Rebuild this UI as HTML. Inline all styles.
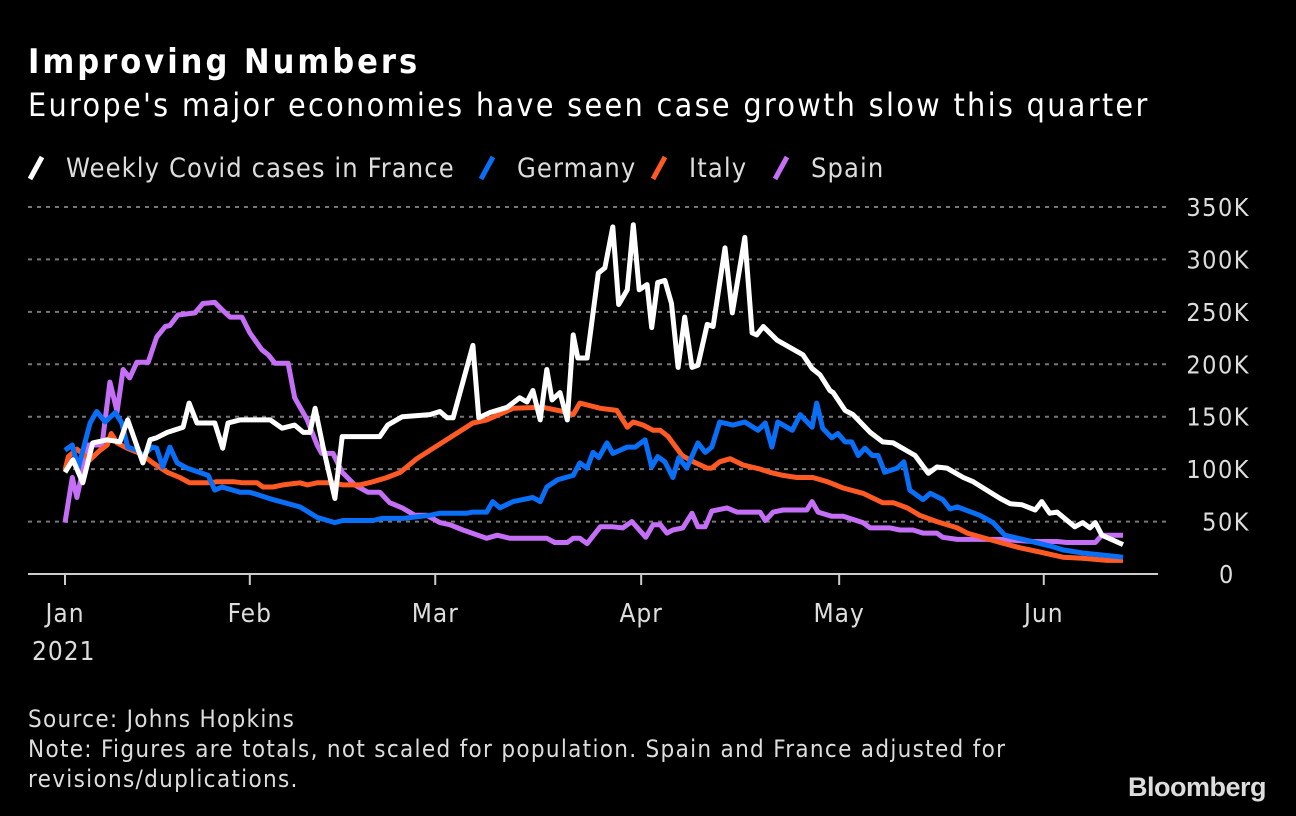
<!DOCTYPE html>
<html><head><meta charset="utf-8">
<style>
html,body{margin:0;padding:0;background:#000;}
body{width:1296px;height:816px;overflow:hidden;position:relative;font-family:"DejaVu Sans Condensed","Liberation Sans Narrow","Liberation Sans",sans-serif;color:#fff;}
.t{position:absolute;white-space:nowrap;}
</style></head><body>
<div class="t" style="left:28px;top:42px;font-size:34px;font-weight:bold;letter-spacing:3px;">Improving Numbers</div>
<div class="t" style="left:28px;top:86px;font-size:32px;letter-spacing:2.3px;">Europe's major economies have seen case growth slow this quarter</div>
<svg id="chart" width="1296" height="816" style="position:absolute;left:0;top:0"></svg>
<div class="t" style="left:28px;top:704px;font-size:24px;color:#ddd;line-height:30px;letter-spacing:1.3px;">Source: Johns Hopkins<br>Note: Figures are totals, not scaled for population. Spain and France adjusted for<br>revisions/duplications.</div>
<div class="t" style="left:1128px;top:772px;font-size:27px;font-weight:bold;color:#ddd;font-family:'Liberation Sans',sans-serif;letter-spacing:-0.5px;">Bloomberg</div>
<script>
const yTicks=[0,50,100,150,200,250,300,350];
const yTickLabels=["0","50K","100K","150K","200K","250K","300K","350K"];
const monthTicks=[0,28,56.1,87.3,117.3,148.3];
const monthLabels=["Jan","Feb","Mar","Apr","May","Jun"];
const legendLabels=["Weekly Covid cases in France","Germany","Italy","Spain"];

const franceDays=[0,1.2,2.7,4.2,6.4,8.3,9.5,11.8,12.9,13.9,15.5,17.9,18.8,20,22.7,23.9,24.7,26.5,31.1,32.9,34.8,36.1,37.1,37.9,39.1,40.9,42,47.7,48.9,51.1,55.3,56.8,57.9,58.8,61.8,62.7,64.4,67,68.9,70,70.9,72,73,73.8,75,76.1,77,77.7,79.1,80.8,81.8,83,83.9,85.2,86.1,87,88.2,88.9,89.8,90.9,91.9,92.9,93.9,95,95.9,97.3,98.2,100,101.1,103,104.1,104.8,105.8,107.9,111.8,113.2,114.4,115.9,116.4,118.2,119.4,122,123.9,125.5,128.8,130.8,132.1,133.6,136.1,137.6,141.7,143.2,145,147,148,149.2,150.3,153,154.2,155.3,156.1,157.1,160.3];
const franceValues=[97,109,87,125,128,126,147,106,128,130,135,140,163,144,144,120,144,147,147,139,142,135,135,158,121,72,131,131,142,150,152,155,149,149,218,149,154,159,168,164,175,147,195,166,173,147,228,206,206,287,292,331,257,271,333,271,276,235,278,280,258,197,245,197,199,238,236,311,249,321,230,228,236,223,209,196,190,175,173,156,152,135,126,125,113,96,102,101,92,88,72,67,66,61,69,58,59,45,49,44,49,37,28];

const germanyDays=[0,1.1,2,3.8,4.8,6.1,7.6,8.6,9.5,10.9,11.8,13.2,13.9,14.8,15.9,17,18.5,21.7,22.7,23.8,26.5,28,31.5,35.6,38.2,40.9,42.1,46.7,48,51.2,55.3,56.8,60.9,61.8,63.9,64.8,65.9,67.9,70.9,72,73,74.7,77,78,79.1,80,80.9,82.1,83,85.2,86.4,87.9,88.9,89.8,90.9,92.1,93,94.2,95.9,97,98,99.2,101.2,103,105,106.1,107.1,108,110.2,111.4,113.2,113.9,114.8,116.2,117.1,118.2,119.2,120.2,121.2,122.3,123.2,124.2,126.1,127.1,128,130,131.1,133,134.1,135.2,138.6,140.6,142.4,145.8,149.7,151.2,154.2,157.3,160.3];
const germanyValues=[118,123,101,144,155,145,154,144,121,118,113,121,120,102,121,106,101,94,80,83,78,78,71,64,54,49,51,51,53,53,56,58,58,59,59,69,63,69,73,69,83,90,94,106,101,116,111,125,115,121,121,128,102,112,107,92,111,101,125,116,121,145,142,145,137,144,121,145,137,152,140,163,139,130,134,126,126,113,120,113,113,97,101,107,80,71,77,71,62,64,56,49,37,32,26,23,20,18,16];

const italyDays=[0,0.5,1.8,3.8,5.3,6.4,7,7.9,9.4,11.4,13.3,15.5,17.4,18.9,22,23,25.5,27,29.1,30,31.5,33,35.6,36.7,38.2,40.6,42.1,44.7,46.7,48.8,50.8,53.3,55.3,61.8,63.9,67.9,72.4,75.5,77,78,81.1,83.6,85.2,86.1,87.6,89.1,90.2,91.4,93.5,95.2,97.3,98,99.2,100.8,102.7,105.3,106.8,108.8,110.9,113.3,115.5,117.9,120.9,123.9,125.5,127.6,129.5,132.1,135.2,136.7,141.7,144.7,147.7,151.2,154.2,157.9,160.3];
const italyValues=[99,112,119,109,118,123,134,125,120,115,106,97,92,87,87,88,88,87,87,83,83,85,87,85,87,87,85,85,88,92,97,110,118,144,147,158,159,155,152,163,158,156,140,145,142,137,137,131,113,107,101,101,107,110,104,100,97,94,92,92,88,82,77,68,68,63,56,50,44,39,30,25,21,16,15,13,13];

const spainDays=[0,1.1,1.8,3.5,5.6,6.8,7.9,8.8,9.8,10.9,12.6,13.9,15.2,15.9,17.1,19.7,20.9,22.7,23.8,25,26.8,28,29.8,30.8,31.8,33.8,34.8,36.7,38.2,38.9,40.6,42,43.9,45.9,47.7,49.2,51.1,53,54.8,56.8,58.3,60.3,63.9,65.5,67.4,73,74.2,76.1,77,78,79.1,81.1,83,84.5,85.9,88,89.1,90.2,91.2,92.1,93.6,95,95.9,97,98,100.3,101.8,105.3,106.1,107.3,108.8,112.4,113.2,114.1,116.2,117.9,120.9,122,125,126.5,128.5,130,132.1,133,135.2,141.7,146.7,150.3,151.8,156.1,157.1,160.3];
const spainValues=[49,92,73,123,123,183,155,195,187,202,202,226,236,237,247,249,258,259,252,245,245,230,214,209,201,201,168,147,123,115,115,97,85,78,78,68,63,56,56,49,47,42,34,37,34,34,30,30,34,34,29,45,45,44,50,35,47,47,39,42,44,58,45,45,60,63,59,59,51,59,61,61,69,59,55,55,49,44,44,42,42,39,39,35,33,33,31,31,30,30,37,37];

const NS='http://www.w3.org/2000/svg';
const svg=document.getElementById('chart');
const xScale=d=>65+d*6.6;
const yScale=v=>574-v/350*367;
function mk(tag,attrs,parent){const e=document.createElementNS(NS,tag);for(const k in attrs)e.setAttribute(k,attrs[k]);(parent||svg).appendChild(e);return e;}

yTicks.forEach((v,i)=>{
  if(v>0){
    const g=mk('line',{x1:28,x2:1168,y1:yScale(v),y2:yScale(v),stroke:'#777','stroke-width':2,'stroke-dasharray':'4,5'});
    
    
  }
  const t=mk('text',{x:v===0?1219:1250,y:yScale(v)+9,'font-size':25,fill:'#ddd','text-anchor':v===0?'start':'end','letter-spacing':1.5});
  t.textContent=yTickLabels[i];
  
  
});
const ax=mk('line',{x1:28,x2:1158,y1:574,y2:574,stroke:'#ccc','stroke-width':2});


monthTicks.forEach((d,i)=>{
  const tk=mk('line',{x1:xScale(d),x2:xScale(d),y1:574,y2:585,stroke:'#ccc','stroke-width':2});
  
  
  const t=mk('text',{x:xScale(d),y:622,'font-size':26,fill:'#ddd','text-anchor':'middle','letter-spacing':1});
  t.textContent=monthLabels[i];
  
  
});
const yr=mk('text',{x:32,y:660,'font-size':26,fill:'#ddd','letter-spacing':1});
yr.textContent='2021';



const series=[
  {name:'spain-line',days:spainDays,vals:spainValues,color:'#c56ff7'},
  {name:'italy-line',days:italyDays,vals:italyValues,color:'#ff5a24'},
  {name:'germany-line',days:germanyDays,vals:germanyValues,color:'#0a6ff7'},
  {name:'france-line',days:franceDays,vals:franceValues,color:'#ffffff'}
];
series.forEach(s=>{
  const n=Math.min(s.days.length,s.vals.length);
  let d='';
  for(let i=0;i<n;i++)d+=(i?'L':'M')+xScale(s.days[i]).toFixed(1)+','+yScale(s.vals[i]).toFixed(1);
  const p=mk('path',{d:d,fill:'none',stroke:s.color,'stroke-width':5,'stroke-linejoin':'round','stroke-linecap':'butt'});
  
  
});

const legColors=['#ffffff','#0a6ff7','#ff5a24','#c56ff7'];
const legX=[30,481,653,775];
legendLabels.forEach((lab,i)=>{
  const g=mk('g',{});
  
  
  mk('line',{x1:legX[i],y1:179,x2:legX[i]+12,y2:157,stroke:legColors[i],'stroke-width':5},g);
  const t=mk('text',{x:legX[i]+36,y:177,'font-size':27,fill:'#ddd','letter-spacing':1.1},g);
  t.textContent=lab;
});
</script>
</body></html>
